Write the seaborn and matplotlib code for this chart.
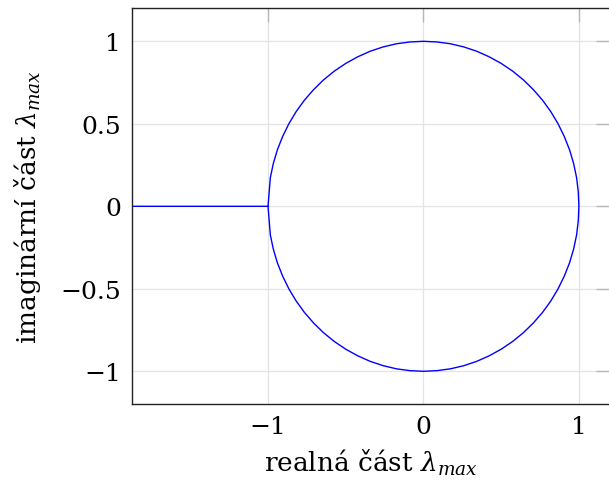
import seaborn as sns
import matplotlib.pyplot as plt
import pandas as pd

real_part = [-2.0, -1.5, -1.0, -0.985, -0.966, -0.940, -0.906, -0.866, -0.819, -0.766, -0.707,
             -0.643, -0.574, -0.5, -0.423, -0.342, -0.259, -0.174, -0.087, 0.0,
             0.087, 0.174, 0.259, 0.342, 0.423, 0.5, 0.574, 0.643, 0.707, 0.766, 0.819, 0.866,
             0.906, 0.940, 0.966, 0.985, 0.996, 1.0,
             0.996, 0.985, 0.966, 0.940, 0.906, 0.866, 0.819, 0.766, 0.707, 0.643, 0.574, 0.5,
             0.423, 0.342, 0.259, 0.174, 0.087, 0.0,
             -0.087, -0.174, -0.259, -0.342, -0.423, -0.5, -0.574, -0.643, -0.707, -0.766,
             -0.819, -0.866, -0.906, -0.940, -0.966, -0.985, -1.0]
imag_part = [0.0, 0.0, 0.0, 0.174, 0.259, 0.342, 0.423, 0.5, 0.574, 0.643, 0.707,
             0.766, 0.819, 0.866, 0.906, 0.940, 0.966, 0.985, 0.996, 1.0,
             0.996, 0.985, 0.966, 0.940, 0.906, 0.866, 0.819, 0.766, 0.707, 0.643, 0.574, 0.5,
             0.423, 0.342, 0.259, 0.174, 0.087, 0.0,
             -0.087, -0.174, -0.259, -0.342, -0.423, -0.5, -0.574, -0.643, -0.707, -0.766,
             -0.819, -0.866, -0.906, -0.940, -0.966, -0.985, -0.996, -1.0,
             -0.996, -0.985, -0.966, -0.940, -0.906, -0.866, -0.819, -0.766, -0.707, -0.643,
             -0.574, -0.5, -0.423, -0.342, -0.259, -0.174, 0.0]

x_ticks = [-1, 0, 1]
y_ticks = [-1, -0.5, 0, 0.5, 1]

df = pd.DataFrame({"re": real_part, "im": imag_part})

sns.set_style("white")
plt.rcParams["font.family"] = ["DejaVu Serif"]
plt.rcParams["mathtext.fontset"] = "dejavuserif"

fig = plt.figure(figsize=(6.09, 4.85), dpi=100)
ax = fig.add_axes([132 / 609, 79.7 / 485, 478 / 609, 396 / 485])

sns.lineplot(data=df, x="re", y="im", sort=False, estimator=None,
             color="blue", linewidth=1.0, ax=ax)

ax.set_xlim(-1.875, 1.2)
ax.set_ylim(-1.2, 1.2)
ax.set_xticks(x_ticks)
ax.set_yticks(y_ticks)
ax.set_xticklabels(["\u22121", "0", "1"])
ax.set_yticklabels(["\u22121", "\u22120.5", "0", "0.5", "1"])
ax.grid(True, color="#e3e3e3", linewidth=0.9)
ax.set_axisbelow(True)
ax.tick_params(direction="in", length=10, width=1, color="#b8b8b8",
               labelsize=18, labelcolor="black", pad=8, top=True, right=True)
for s in ax.spines.values():
    s.set_color("#222222")
    s.set_linewidth(1.0)

ax.set_xlabel(r"realná část $\lambda_{max}$", fontsize=19, color="black", labelpad=6)
ax.set_ylabel(r"imaginární část $\lambda_{max}$", fontsize=19, color="black", labelpad=12)

fig.savefig("out.png", dpi=100)
